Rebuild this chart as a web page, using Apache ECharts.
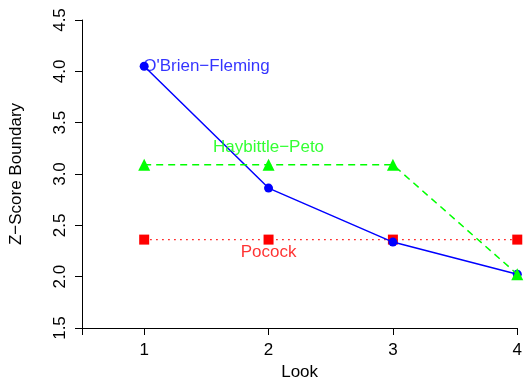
<!DOCTYPE html>
<html>
<head>
<meta charset="utf-8">
<script src="https://cdn.jsdelivr.net/npm/echarts@6/dist/echarts.min.js"></script>
<style>html,body{margin:0;padding:0;background:#fff}#c{width:525px;height:387px}</style>
</head>
<body>
<div id="c"></div>
<script>
const looks = [1, 2, 3, 4];
const obrienFleming = [4.049, 2.863, 2.337, 2.024];
const haybittlePeto = [3.09, 3.09, 3.09, 2.024];
const pocock = [2.361, 2.361, 2.361, 2.361];
const xTicks = [0.5, 1, 2, 3, 4];
const xLabels = [1, 2, 3, 4];
const yTicks = [1.5, 2.0, 2.5, 3.0, 3.5, 4.0, 4.5];

const FONT = 'Liberation Sans';
const FS = 17;
const chart = echarts.init(document.getElementById('c'));

function pts(vals) { return looks.map((x, i) => [x, vals[i]]); }

chart.setOption({
  animation: false,
  grid: { left: 82, right: 5, top: 20, bottom: 59 },
  xAxis: {
    type: 'value', min: 0.5, max: 4,
    name: 'Look', nameLocation: 'middle', nameGap: 35,
    nameTextStyle: { fontFamily: FONT, fontSize: FS, color: '#000' },
    axisLine: { show: true, lineStyle: { color: '#000', width: 1 } },
    axisTick: { show: true, customValues: xTicks, length: 7, lineStyle: { color: '#000' } },
    axisLabel: { customValues: xLabels, margin: 14, fontFamily: FONT, fontSize: FS, color: '#000' },
    splitLine: { show: false }
  },
  yAxis: {
    type: 'value', min: 1.5, max: 4.5, interval: 0.5,
    name: 'Z\u2212Score Boundary', nameLocation: 'middle', nameGap: 57, nameRotate: 90,
    nameTextStyle: { fontFamily: FONT, fontSize: FS, color: '#000' },
    axisLine: { show: true, lineStyle: { color: '#000', width: 1 } },
    axisTick: { show: true, length: 7, lineStyle: { color: '#000' } },
    axisLabel: { rotate: 90, margin: 13, fontFamily: FONT, fontSize: FS, color: '#000',
      formatter: v => v.toFixed(1) },
    splitLine: { show: false }
  },
  series: [
    {
      type: 'line', data: pts(pocock), symbol: 'rect', symbolSize: 10,
      itemStyle: { color: '#FF0000' },
      lineStyle: { color: '#FF0000', width: 1.4, type: [1.5, 4.5] },
      label: { show: false }, z: 2
    },
    {
      type: 'line', data: pts(obrienFleming), symbol: 'circle', symbolSize: 9,
      itemStyle: { color: '#0000FF' },
      lineStyle: { color: '#0000FF', width: 1.5, type: 'solid' },
      label: { show: false }, z: 3
    },
    {
      type: 'line', data: pts(haybittlePeto), symbol: 'triangle', symbolSize: 12,
      itemStyle: { color: '#00FF00' },
      lineStyle: { color: '#00FF00', width: 1.5, type: [7, 5] },
      label: { show: false }, z: 4
    },
    {
      type: 'scatter', symbolSize: 0, silent: true, z: 5,
      data: [
        { value: [looks[0], obrienFleming[0]], label: { show: true, formatter: 'O\'Brien\u2212Fleming', position: 'right', distance: -1, color: '#0000FF', fontFamily: FONT, fontSize: FS } },
        { value: [looks[1], haybittlePeto[1]], label: { show: true, formatter: 'Haybittle\u2212Peto', position: 'top', distance: 9, color: '#00FF00', fontFamily: FONT, fontSize: FS } },
        { value: [looks[1], pocock[1]], label: { show: true, formatter: 'Pocock', position: 'bottom', distance: 4, color: '#FF0000', fontFamily: FONT, fontSize: FS } }
      ]
    }
  ]
});
</script>
</body>
</html>
